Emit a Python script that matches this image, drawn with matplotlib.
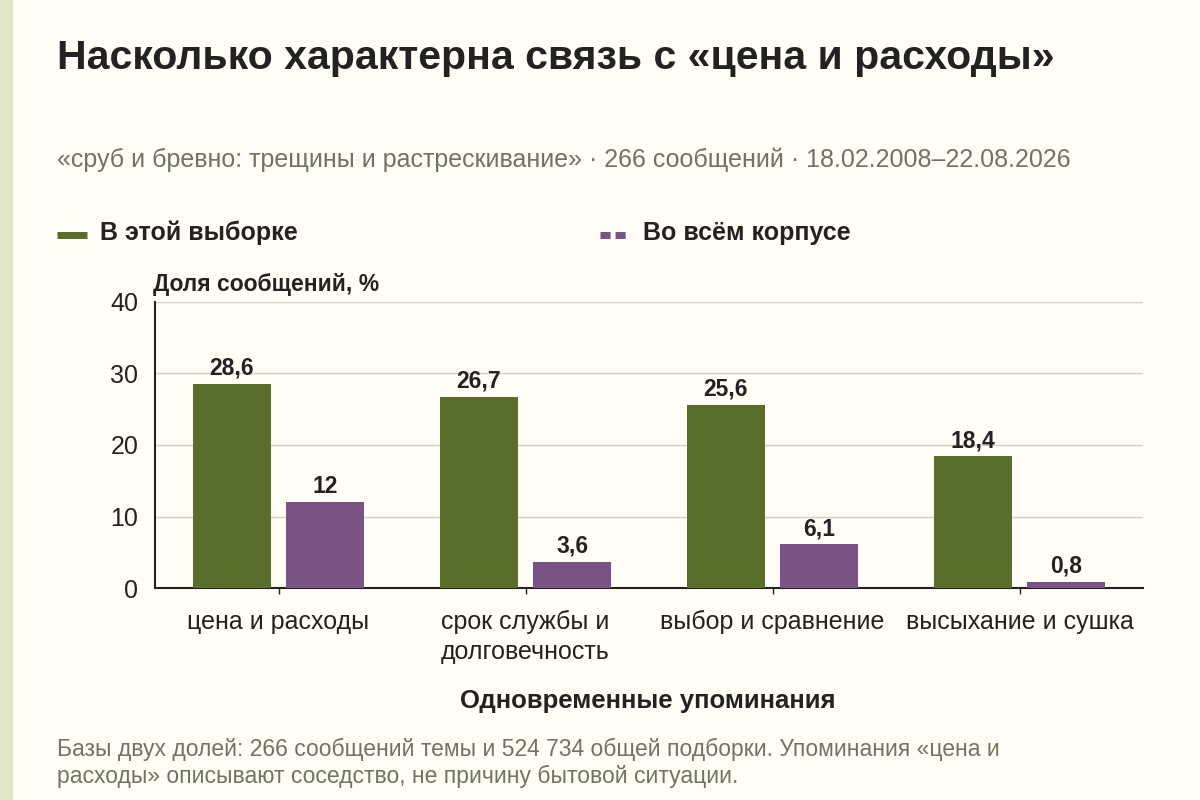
import matplotlib
matplotlib.use("Agg")
import matplotlib.pyplot as plt
from matplotlib.lines import Line2D
from matplotlib.patches import Rectangle
import numpy as np

categories = ["цена и расходы", "срок службы и\nдолговечность", "выбор и сравнение", "высыхание и сушка"]
sample_values = [28.6, 26.7, 25.6, 18.4]
corpus_values = [12, 3.6, 6.1, 0.8]
sample_labels = ["28,6", "26,7", "25,6", "18,4"]
corpus_labels = ["12", "3,6", "6,1", "0,8"]
series_names = ["В этой выборке", "Во всём корпусе"]
yticks = [0, 10, 20, 30, 40]

title = "Насколько характерна связь с «цена и расходы»"
subtitle = "«сруб и бревно: трещины и растрескивание» · 266 сообщений · 18.02.2008–22.08.2026"
y_label = "Доля сообщений, %"
x_label = "Одновременные упоминания"
footer = ("Базы двух долей: 266 сообщений темы и 524 734 общей подборки. Упоминания «цена и\n"
          "расходы» описывают соседство, не причину бытовой ситуации.")

GREEN = "#596e2a"
PURPLE = "#785383"
BG = "#fffdf6"
TEXT = "#222222"
MUTED = "#6e7560"
GRID = "#cfcfc4"

plt.rcParams["font.family"] = ["Liberation Sans", "DejaVu Sans"]

fig = plt.figure(figsize=(12, 8), dpi=100, facecolor=BG)
fig.add_artist(Rectangle((0, 0), 13 / 1200, 1, transform=fig.transFigure,
                         facecolor="#e1e7c3", edgecolor="none"))

ax = fig.add_axes([155 / 1200, 1 - 588 / 800, 988 / 1200, 286 / 800])
ax.set_facecolor(BG)

x = np.arange(len(categories))
w = 0.316
ax.bar(x - 0.19, sample_values, width=w, color=GREEN, zorder=3)
ax.bar(x + 0.19, corpus_values, width=w, color=PURPLE, zorder=3)
for xi, v, lab in zip(x, sample_values, sample_labels):
    ax.text(xi - 0.19, v + 0.6, lab, ha="center", va="bottom", fontsize=16.5,
            fontweight="bold", color=TEXT)
for xi, v, lab in zip(x, corpus_values, corpus_labels):
    ax.text(xi + 0.19, v + 0.6, lab, ha="center", va="bottom", fontsize=16.5,
            fontweight="bold", color=TEXT)

ax.set_xlim(-0.5, len(categories) - 0.5)
ax.set_ylim(0, 40)
ax.set_yticks(yticks)
ax.set_yticklabels([str(t) for t in yticks])
ax.set_xticks(x)
ax.set_xticklabels(categories, fontsize=18, color=TEXT, linespacing=1.3)
ax.tick_params(axis="y", length=0, labelsize=18, labelcolor=TEXT, pad=12)
ax.tick_params(axis="x", length=4, width=1, color=TEXT, pad=12)
ax.grid(axis="y", color=GRID, linewidth=1, zorder=0)
for s in ["top", "right"]:
    ax.spines[s].set_visible(False)
ax.spines["left"].set_color(TEXT)
ax.spines["bottom"].set_color(TEXT)
ax.spines["left"].set_linewidth(1.5)
ax.spines["bottom"].set_linewidth(1.5)

ax.text(-0.002, 1.02, y_label, transform=ax.transAxes, ha="left", va="bottom",
        fontsize=16.5, fontweight="bold", color=TEXT)

fig.text(57 / 1200, 1 - 58 / 800, title, fontsize=29.5, fontweight="bold",
         color=TEXT, ha="left", va="center")
fig.text(57 / 1200, 1 - 160 / 800, subtitle, fontsize=18, color=MUTED,
         ha="left", va="center")

# legend
fig.add_artist(Line2D([57 / 1200, 87 / 1200], [1 - 235 / 800] * 2,
                      transform=fig.transFigure, color=GREEN, linewidth=5,
                      solid_capstyle="butt"))
fig.text(100 / 1200, 1 - 233 / 800, series_names[0], fontsize=18,
         fontweight="bold", color=TEXT, ha="left", va="center")
fig.add_artist(Line2D([600 / 1200, 630 / 1200], [1 - 235 / 800] * 2,
                      transform=fig.transFigure, color=PURPLE, linewidth=5,
                      dashes=(1.45, 0.72), dash_capstyle="butt"))
fig.text(643 / 1200, 1 - 233 / 800, series_names[1], fontsize=18,
         fontweight="bold", color=TEXT, ha="left", va="center")

fig.text(648 / 1200, 1 - 701 / 800, x_label, fontsize=18.5, fontweight="bold",
         color=TEXT, ha="center", va="center")
fig.text(57 / 1200, 1 - 763 / 800, footer, fontsize=16.5, color=MUTED,
         ha="left", va="center", linespacing=1.2)

fig.savefig("out.png", dpi=100, facecolor=BG)
